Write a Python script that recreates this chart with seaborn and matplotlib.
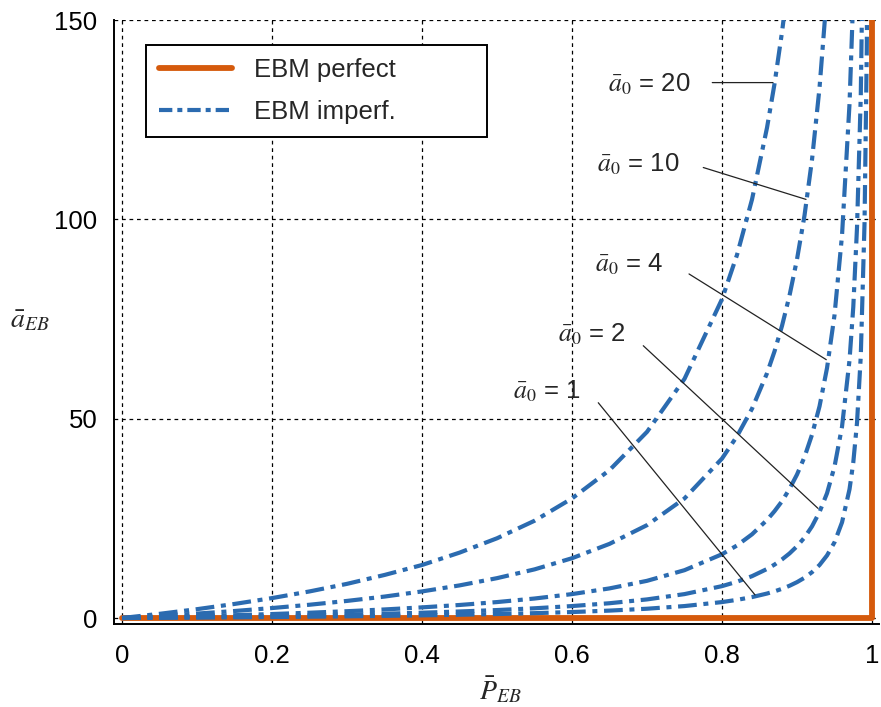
import numpy as np
import pandas as pd
import matplotlib
matplotlib.use("Agg")
import matplotlib.pyplot as plt
from matplotlib.lines import Line2D
import seaborn as sns

# Reception probability grid (x) and mean backlog per initial value a0 (y)
p_grid = [0, 0.05, 0.1, 0.15, 0.2, 0.25, 0.3, 0.35, 0.4, 0.45, 0.5, 0.55,
          0.6, 0.65, 0.7, 0.75, 0.8, 0.82, 0.84, 0.86, 0.87, 0.88, 0.89,
          0.9, 0.91, 0.92, 0.93, 0.94, 0.95, 0.96, 0.97, 0.975, 0.98,
          0.985, 0.99, 0.993, 0.995]

a_eb_1 = [0, 0.053, 0.111, 0.176, 0.25, 0.333, 0.429, 0.538, 0.667, 0.818,
          1.0, 1.22, 1.5, 1.86, 2.33, 3.0, 4.0, 4.56, 5.25, 6.14, 6.69,
          7.33, 8.09, 9.0, 10.1, 11.5, 13.3, 15.7, 19.0, 24.0, 32.3, 39.0,
          49.0, 65.7, 99.0, 142, 199]
a_eb_2 = [0, 0.105, 0.222, 0.353, 0.5, 0.667, 0.857, 1.08, 1.33, 1.64,
          2.0, 2.44, 3.0, 3.71, 4.67, 6.0, 8.0, 9.11, 10.5, 12.3, 13.4,
          14.7, 16.2, 18.0, 20.2, 23.0, 26.6, 31.3, 38.0, 48.0, 64.7, 78.0,
          98.0, 131, 198, 284, 398]
a_eb_4 = [0, 0.21, 0.44, 0.71, 1.0, 1.33, 1.71, 2.15, 2.67, 3.27,
          4.0, 4.89, 6.0, 7.43, 9.33, 12.0, 16.0, 18.2, 21.0, 24.6, 26.8,
          29.3, 32.4, 36.0, 40.4, 46.0, 53.1, 62.7, 76.0, 96.0, 129, 156,
          196, 263, 396, 568, 796]
a_eb_10 = [0, 0.53, 1.11, 1.76, 2.5, 3.33, 4.29, 5.38, 6.67, 8.18,
           10.0, 12.2, 15.0, 18.6, 23.3, 30.0, 40.0, 45.6, 52.5, 61.4, 66.9,
           73.3, 80.9, 90.0, 101, 115, 133, 157, 190, 240, 323, 390,
           490, 657, 990, 1419, 1990]
a_eb_20 = [0, 1.05, 2.22, 3.53, 5.0, 6.67, 8.57, 10.8, 13.3, 16.4,
           20.0, 24.4, 30.0, 37.1, 46.7, 60.0, 80.0, 91.1, 105, 123, 134,
           147, 162, 180, 202, 230, 266, 313, 380, 480, 647, 780,
           980, 1313, 1980, 2837, 3980]

a0_values = [1, 2, 4, 10, 20]
curves = [a_eb_1, a_eb_2, a_eb_4, a_eb_10, a_eb_20]

# Perfect-channel model: zero backlog until P = 1, then unbounded
perfect_p = [0, 1.0, 1.0]
perfect_a = [0, 0, 400]

# Label positions and leader lines for each a0 curve (data coordinates)
label_text_xy = [(0.566, 57.0), (0.627, 71.3), (0.676, 88.8), (0.689, 113.8), (0.703, 133.8)]
leader_start = [(0.635, 54.0), (0.695, 68.3), (0.756, 86.3), (0.775, 113.0), (0.787, 134.3)]
leader_end = [(0.844, 5.8), (0.928, 27.5), (0.939, 64.8), (0.912, 105.0), (0.868, 134.3)]

x_ticks = [0, 0.2, 0.4, 0.6, 0.8, 1.0]
x_tick_labels = ["0", "0.2", "0.4", "0.6", "0.8", "1"]
y_ticks = [0, 50, 100, 150]

blue = "#2B6BB0"
orange = "#D55A0C"
fs = 18.5

sns.set_style("white")
plt.rcParams["font.family"] = ["Liberation Sans", "DejaVu Sans"]
plt.rcParams["mathtext.fontset"] = "stix"

fig = plt.figure(figsize=(8.81, 7.07), dpi=100)
ax = fig.add_axes([114 / 881, 1 - 624 / 707, 765 / 881, 604 / 707])

rows = []
for a0, vals in zip(a0_values, curves):
    for p, v in zip(p_grid, vals):
        rows.append({"P": p, "a": v, "a0": str(a0)})
imperf = pd.DataFrame(rows)
perfect = pd.DataFrame({"P": perfect_p, "a": perfect_a})

# Perfect-channel step drawn first, imperfect curves on top of it
sns.lineplot(data=perfect, x="P", y="a", ax=ax, color=orange, lw=4.2,
             estimator=None, sort=False, legend=False, zorder=4)

dash = (4.5, 1.6, 1.2, 1.6)
for a0 in a0_values:
    sub = imperf[imperf["a0"] == str(a0)]
    sns.lineplot(data=sub, x="P", y="a", ax=ax, color=blue, lw=3.0,
                 estimator=None, sort=True, legend=False, zorder=5)
for line in ax.get_lines()[1:]:
    line.set_dashes(dash)
    line.set_dash_capstyle("butt")

ax.set_xlim(-0.0107, 1.0093)
ax.set_ylim(-1.5, 150)
ax.set_xticks(x_ticks)
ax.set_xticklabels(x_tick_labels)
ax.set_yticks(y_ticks)

ax.grid(True, color="black", lw=0.9, linestyle=(0, (3, 3)))
ax.set_axisbelow(True)
for s in ["top", "right"]:
    ax.spines[s].set_visible(False)
for s in ["left", "bottom"]:
    ax.spines[s].set_color("black")
    ax.spines[s].set_linewidth(1.4)

ax.tick_params(axis="both", direction="in", length=5, width=1.2,
               labelsize=fs, colors="black")
ax.tick_params(axis="x", pad=14.5)
ax.tick_params(axis="y", pad=12)

ax.set_xlabel(r"$\bar{P}_{EB}$", fontsize=20)
ax.xaxis.set_label_coords((500 - 114) / 765, (624 - 690) / 604)
ax.xaxis.label.set_va("center")
ax.set_ylabel(r"$\bar{a}_{EB}$", fontsize=20, rotation=0)
ax.yaxis.set_label_coords((30 - 114) / 765, (624 - 320) / 604)
ax.yaxis.label.set_va("center")
ax.yaxis.label.set_ha("center")

for a0, txy, s, e in zip(a0_values, label_text_xy, leader_start, leader_end):
    ax.text(txy[0], txy[1], r"$\bar{a}_0$ = " + str(a0), fontsize=fs,
            ha="center", va="center", zorder=6)
    ax.annotate("", xy=e, xytext=s,
                arrowprops=dict(arrowstyle="-", lw=0.9, color="#222222",
                                shrinkA=0, shrinkB=0), zorder=6)

handles = [Line2D([], [], color=orange, lw=4.2),
           Line2D([], [], color=blue, lw=3.0, dashes=(3.2, 1.2, 1.2, 1.2))]
leg = ax.legend(handles, ["EBM perfect", "EBM imperf."], fontsize=fs,
                loc="upper left",
                bbox_to_anchor=((146 - 114) / 765, (624 - 135) / 604,
                                341 / 765, 90 / 604),
                mode="expand", borderaxespad=0, fancybox=False,
                framealpha=1, edgecolor="black", handlelength=2.85,
                handletextpad=0.85, labelspacing=0.72, borderpad=0.5)
leg.get_frame().set_linewidth(1.4)

fig.savefig("out.png", dpi=100)
